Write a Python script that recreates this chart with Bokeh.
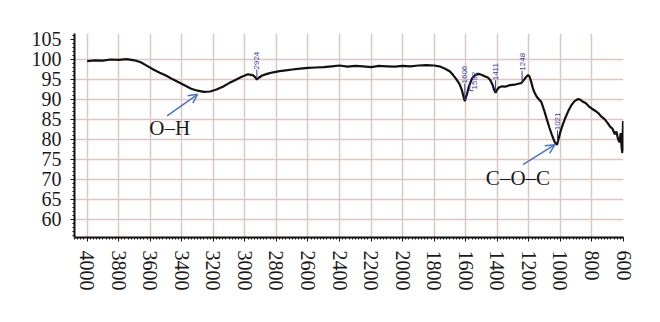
import math
from bokeh.plotting import figure
from bokeh.models import Range1d, FixedTicker, Arrow, OpenHead, Label
from bokeh.embed import file_html
from bokeh.resources import INLINE

# ---- data ----
wavenumber = [4000, 3950, 3900, 3850, 3800, 3750, 3700, 3660, 3620, 3580, 3540, 3500,
              3460, 3420, 3380, 3340, 3300, 3260, 3220, 3180, 3140, 3100, 3060, 3020,
              2980, 2950, 2935, 2924, 2910, 2890, 2860, 2820, 2780, 2740, 2700, 2650,
              2600, 2550, 2500, 2450, 2400, 2350, 2300, 2250, 2200, 2150, 2100, 2050,
              2000, 1950, 1900, 1850, 1800, 1760, 1730, 1700, 1680, 1660, 1640, 1625,
              1615, 1606, 1598, 1592, 1580, 1560, 1540, 1520, 1500, 1480, 1460, 1445,
              1430, 1420, 1411, 1400, 1390, 1370, 1350, 1320, 1290, 1260, 1248, 1235,
              1220, 1205, 1195, 1185, 1175, 1165, 1150, 1135, 1120, 1100, 1085, 1070,
              1055, 1040, 1030, 1021, 1012, 1000, 985, 970, 950, 930, 910, 890, 875,
              860, 840, 820, 800, 780, 760, 740, 720, 700, 685, 670, 655, 645, 635,
              625, 618, 612, 607, 603, 600]
transmittance = [99.5, 99.7, 99.6, 99.9, 99.8, 100.0, 99.7, 99.2, 98.3, 97.4, 96.6, 95.9,
                 95.0, 94.2, 93.4, 92.6, 92.1, 91.8, 91.9, 92.4, 93.1, 94.0, 94.8, 95.6,
                 96.2, 96.0, 95.5, 94.9, 95.4, 95.9, 96.3, 96.7, 97.0, 97.2, 97.4, 97.6,
                 97.8, 97.9, 98.0, 98.2, 98.4, 98.1, 98.3, 98.2, 98.0, 98.3, 98.2, 98.1,
                 98.3, 98.2, 98.4, 98.5, 98.4, 98.1, 97.6, 96.9, 96.0, 95.0, 93.8, 92.3,
                 90.8, 89.5, 90.6, 91.2, 93.2, 95.2, 96.0, 96.3, 96.1, 95.7, 95.4, 94.8,
                 93.6, 92.3, 91.6, 92.4, 92.9, 93.2, 93.1, 93.5, 93.6, 93.9, 94.0, 94.6,
                 95.4, 96.0, 95.6, 94.3, 92.8, 91.7, 90.6, 89.9, 89.2, 86.8, 84.8, 82.9,
                 81.2, 79.6, 78.9, 78.6, 80.0, 81.8, 83.6, 85.2, 87.0, 88.5, 89.5, 90.0, 89.9,
                 89.4, 89.0, 88.2, 87.6, 87.1, 86.5, 85.6, 85.0, 84.0, 83.1, 82.6, 81.2, 81.9, 80.1,
                 79.2, 81.5, 78.0, 76.5, 84.5, 77.0]

x_ticks = [4000, 3800, 3600, 3400, 3200, 3000, 2800, 2600, 2400, 2200, 2000,
           1800, 1600, 1400, 1200, 1000, 800, 600]
y_ticks = [60, 65, 70, 75, 80, 85, 90, 95, 100, 105]
y_grid_ticks = [60, 65, 70, 75, 80, 85, 90, 95, 100]

peak_labels = ["2924", "1606", "1592", "1411", "1248", "1021"]
peak_wn = [2924, 1606, 1544, 1411, 1243, 1018]
peak_text_y = [97.4, 93.9, 92.4, 94.7, 97.1, 82.2]
peak_tick_bottom = [95.2, 89.8, 92.4, 91.9, 94.2, 79.4]

groups = ["O–H", "C–O–C"]

# ---- figure ----
p = figure(width=644, height=306,
           x_range=Range1d(4080, 600), y_range=Range1d(55.4, 106.4),
           output_backend="svg", toolbar_location=None,
           min_border_left=74, min_border_right=21,
           min_border_top=33, min_border_bottom=69)
p.outline_line_color = None
p.background_fill_color = "white"

grid_color = "#dcc7c1"
p.xgrid.ticker = FixedTicker(ticks=x_ticks)
p.ygrid.ticker = FixedTicker(ticks=y_grid_ticks)
p.grid.grid_line_color = grid_color
p.grid.grid_line_width = 1.5

p.xaxis.ticker = FixedTicker(ticks=x_ticks, minor_ticks=list(range(600, 4081, 20)))
p.yaxis.ticker = FixedTicker(ticks=y_ticks, minor_ticks=list(range(56, 107, 1)))
p.xaxis.major_label_orientation = "vertical"
for ax in (p.xaxis, p.yaxis):
    ax.axis_line_width = 2
    ax.axis_line_color = "#111111"
    ax.major_tick_line_color = "#111111"
    ax.minor_tick_line_color = "#111111"
    ax.major_tick_out = 4
    ax.major_tick_in = 0
    ax.minor_tick_out = 2
    ax.minor_tick_in = 0
    ax.major_label_text_font = "Liberation Serif"
    ax.major_label_text_font_size = "20px"
    ax.major_label_text_color = "#1a1a1a"
    ax.major_label_standoff = 9

# spectrum
p.line(wavenumber, transmittance, line_color="#111111", line_width=2.2)

# peak labels
label_color = "#3d3d9e"
for lab, wn, ty, tb in zip(peak_labels, peak_wn, peak_text_y, peak_tick_bottom):
    p.add_layout(Label(x=wn, y=ty, text=lab, angle=math.pi / 2,
                       text_align="left", text_baseline="middle",
                       text_font="Liberation Sans", text_font_size="8px",
                       text_color=label_color))
    if lab != "1592":
        p.segment(x0=[wn], y0=[tb], x1=[wn], y1=[ty], line_color=label_color, line_width=1)
# L-shaped leader for 1592
p.segment(x0=[1574, 1574], y0=[93.7, 92.1], x1=[1574, 1552], y1=[92.1, 92.1],
          line_color=label_color, line_width=1)

# group annotations
arrow_color = "#4a72c6"
p.add_layout(Label(x=3477, y=82.7, text=groups[0], text_align="center", text_baseline="middle",
                   text_font="Liberation Serif", text_font_size="21px", text_color="#1a1a1a"))
p.add_layout(Arrow(end=OpenHead(size=9, line_color=arrow_color, line_width=1.5),
                   x_start=3493, y_start=85.8, x_end=3300, y_end=91.2,
                   line_color=arrow_color, line_width=1.5))
p.add_layout(Label(x=1269, y=70.2, text=groups[1], text_align="center", text_baseline="middle",
                   text_font="Liberation Serif", text_font_size="21px", text_color="#1a1a1a"))
p.add_layout(Arrow(end=OpenHead(size=9, line_color=arrow_color, line_width=1.5),
                   x_start=1237, y_start=73.6, x_end=1035, y_end=78.6,
                   line_color=arrow_color, line_width=1.5))

open("out.html", "w").write(file_html(p, INLINE))
